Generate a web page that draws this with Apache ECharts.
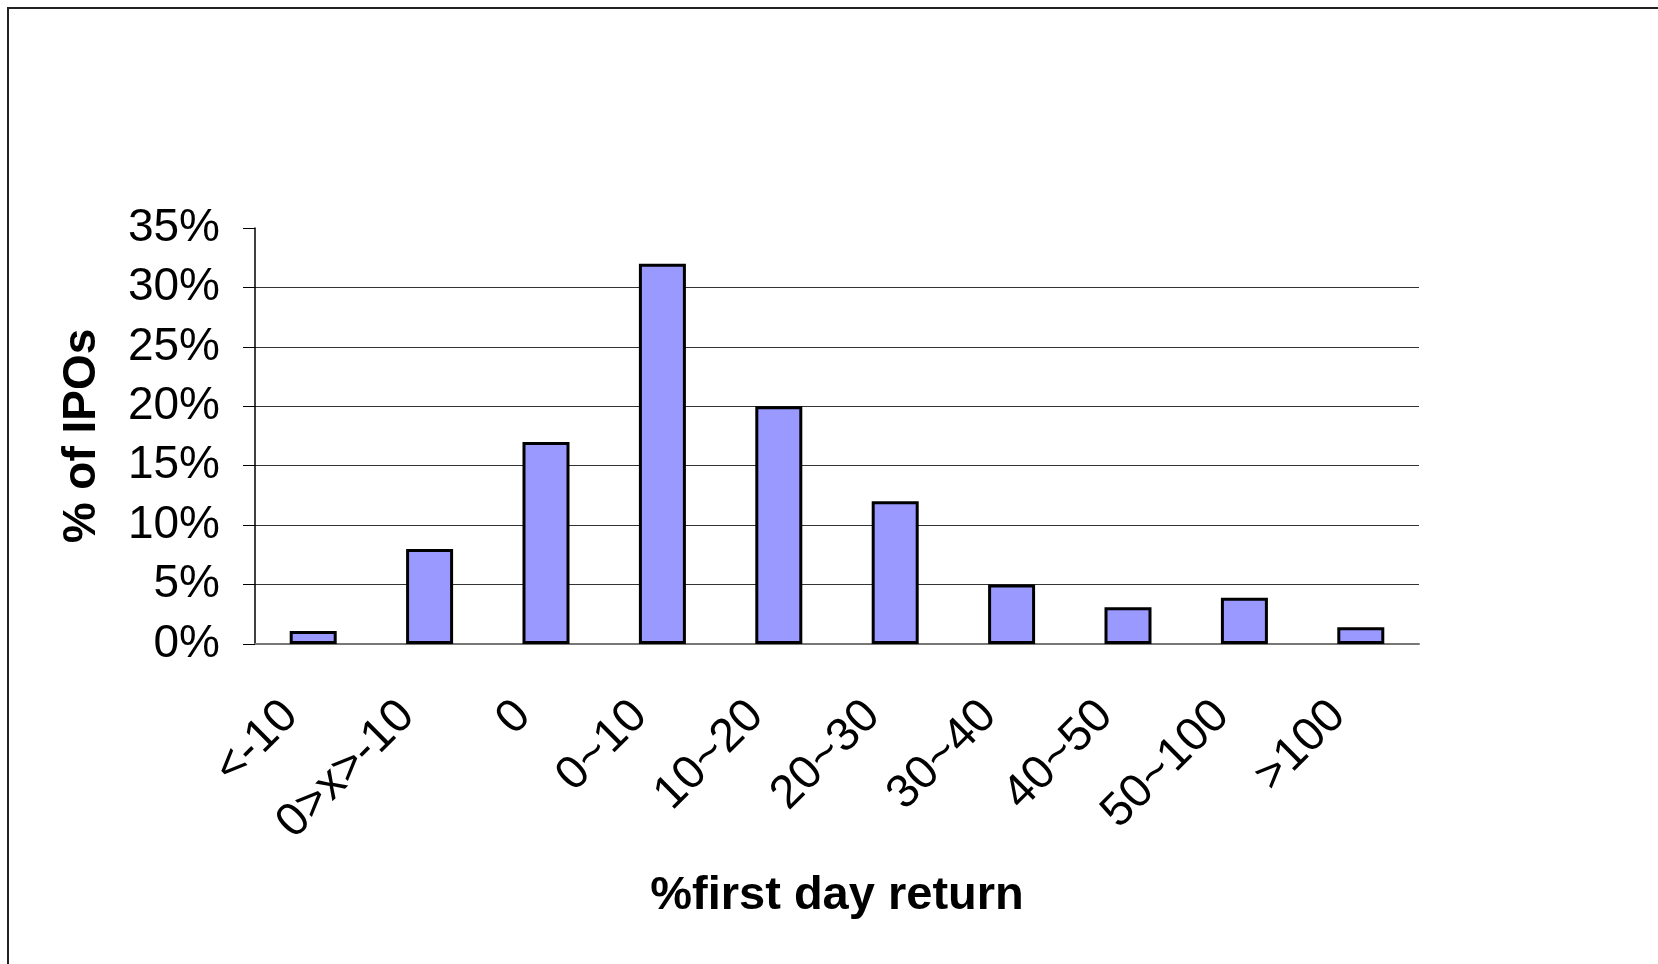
<!DOCTYPE html>
<html>
<head>
<meta charset="utf-8">
<script src="https://cdn.jsdelivr.net/npm/echarts@6/dist/echarts.min.js"></script>
<style>
  html, body { margin: 0; padding: 0; background: #fff; }
  #main { width: 1658px; height: 964px; }
</style>
</head>
<body>
<div id="main"></div>
<script>
// 数据
var categories = ['<-10', '0>x>-10', '0', '0~10', '10~20', '20~30', '30~40', '40~50', '50~100', '>100'];
var pctIPOs = [1.1, 8, 17, 32, 20, 12, 5, 3.1, 3.9, 1.4];
var yTicks = [0, 5, 10, 15, 20, 25, 30, 35];

var font = 'Liberation Sans, Arial, sans-serif';

var myChart = echarts.init(document.getElementById('main'));

var option = {
    backgroundColor: '#fff',
    animation: false,
    graphic: [{
        type: 'rect',
        shape: { x: 8, y: 8, width: 1700, height: 1000 },
        style: { fill: 'none', stroke: '#222', lineWidth: 2 },
        silent: true
    }],
    grid: {
        left: 255,
        top: 228,
        right: 239,
        bottom: 320
    },
    xAxis: {
        type: 'category',
        data: categories,
        name: '%first day return',
        nameLocation: 'middle',
        nameGap: 229,
        nameTextStyle: { fontFamily: font, fontSize: 47, fontWeight: 'bold', color: '#000' },
        axisLine: { lineStyle: { color: '#777', width: 2 } },
        axisTick: { length: 13, lineStyle: { color: '#555', width: 1 } },
        axisLabel: {
            rotate: 45,
            margin: 42,
            padding: [0, 32, 0, 0],
            interval: 0,
            fontFamily: font,
            fontSize: 47,
            color: '#000'
        },
        splitLine: { show: false }
    },
    yAxis: {
        type: 'value',
        min: yTicks[0],
        max: yTicks[yTicks.length - 1],
        interval: 5,
        name: '% of IPOs',
        nameLocation: 'middle',
        nameGap: 150,
        nameTextStyle: { fontFamily: font, fontSize: 46, fontWeight: 'bold', color: '#000' },
        axisLine: { show: true, lineStyle: { color: '#000', width: 1.5 } },
        axisTick: { show: true, length: 12, lineStyle: { color: '#000', width: 1 } },
        axisLabel: {
            margin: 35,
            fontFamily: font,
            fontSize: 46,
            color: '#000',
            formatter: '{value}%'
        },
        splitLine: {
            show: true,
            showMaxLine: false,
            lineStyle: { color: '#333', width: 1 }
        }
    },
    series: [{
        type: 'bar',
        data: pctIPOs,
        barWidth: 47,
        itemStyle: {
            color: '#9999FF',
            borderColor: '#000',
            borderWidth: 3
        }
    }]
};

myChart.setOption(option);
</script>
</body>
</html>
